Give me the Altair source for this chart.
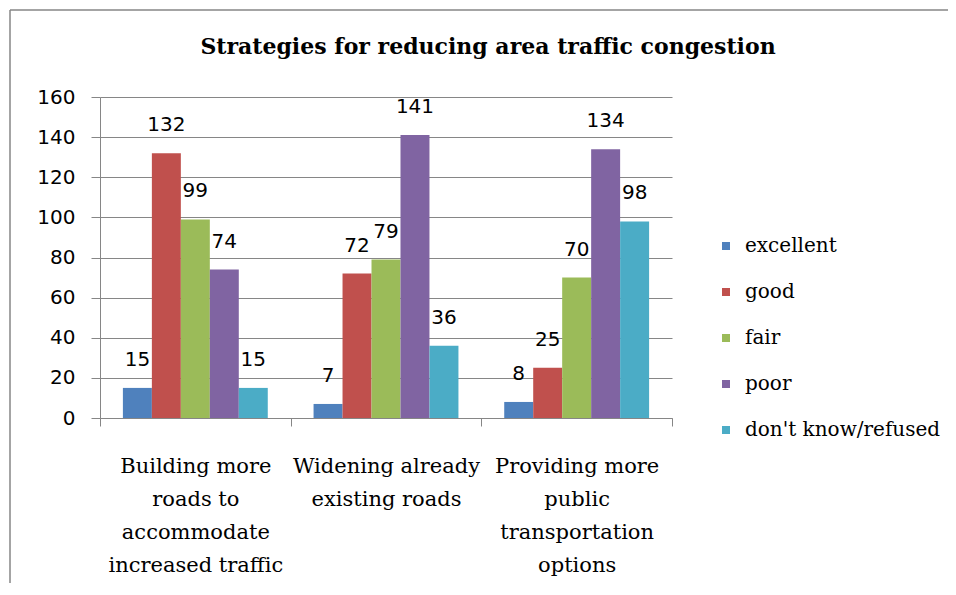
import json
import altair as alt
import pandas as pd

title_text = "Strategies for reducing area traffic congestion"
categories = [
    "Building more roads to accommodate increased traffic",
    "Widening already existing roads",
    "Providing more public transportation options",
]
category_lines = [
    ["Building more", "roads to", "accommodate", "increased traffic"],
    ["Widening already", "existing roads"],
    ["Providing more", "public", "transportation", "options"],
]
ratings = ["excellent", "good", "fair", "poor", "don't know/refused"]
excellent = [15, 7, 8]
good = [132, 72, 25]
fair = [99, 79, 70]
poor = [74, 141, 134]
dont_know = [15, 36, 98]
colors = ["#4F81BD", "#C0504D", "#9BBB59", "#8064A2", "#4BACC6"]
y_ticks = [0, 20, 40, 60, 80, 100, 120, 140, 160]

series = [excellent, good, fair, poor, dont_know]
rows = []
for r, vals in zip(ratings, series):
    for c, v in zip(categories, vals):
        rows.append({"category": c, "rating": r, "value": v})
df = pd.DataFrame(rows)

# multi-line labels
expr = "''"
for c, lines in reversed(list(zip(categories, category_lines))):
    expr = f"datum.value == {json.dumps(c)} ? {json.dumps(lines)} : ({expr})"

GRAY = "#868686"

x_enc = alt.X(
    "category:N",
    sort=categories,
    scale=alt.Scale(paddingInner=0, paddingOuter=0),
    axis=alt.Axis(
        title=None, labelAngle=0, labelExpr=expr, tickBand="extent",
        tickSize=8, tickColor=GRAY, domainColor=GRAY, grid=False,
        labelFont="DejaVu Serif", labelFontSize=21, labelLineHeight=33,
        labelPadding=29, labelLimit=400, labelOverlap=False, labelColor="black",
    ),
)
xo_enc = alt.XOffset("rating:N", sort=ratings,
                     scale=alt.Scale(paddingOuter=0.79, paddingInner=0))
y_enc = alt.Y(
    "value:Q",
    scale=alt.Scale(domain=[0, 160], nice=False),
    axis=alt.Axis(
        title=None, values=y_ticks, grid=True, gridColor=GRAY, domainColor=GRAY,
        tickColor=GRAY, tickSize=9, labelPadding=16, labelFont="DejaVu Sans",
        labelFontSize=20, labelColor="black",
    ),
)

base = alt.Chart(df)
bars = base.mark_bar().encode(
    x=x_enc, xOffset=xo_enc, y=y_enc,
    color=alt.Color(
        "rating:N", sort=ratings,
        scale=alt.Scale(domain=ratings, range=colors),
        legend=alt.Legend(
            title=None, orient="none", legendX=616, legendY=139,
            symbolType="square", symbolSize=64, symbolStrokeWidth=0,
            labelFont="DejaVu Serif", labelFontSize=20, labelColor="black",
            labelOffset=9, rowPadding=26, labelLimit=400,
        ),
    ),
)
labels = base.mark_text(baseline="bottom", dy=-18, font="DejaVu Sans",
                        fontSize=20, color="black").encode(
    x=alt.X("category:N", sort=categories),
    xOffset=alt.XOffset("rating:N", sort=ratings),
    y="value:Q",
    text="value:Q",
)

tdf = pd.DataFrame({"t": [title_text]})
title = alt.Chart(tdf).mark_text(
    font="DejaVu Serif", fontSize=22, fontWeight="bold", color="black",
    baseline="middle", align="center",
).encode(x=alt.value(388), y=alt.value(-50), text="t:N")

frame_left = alt.Chart(tdf).mark_rule(color=GRAY, strokeWidth=1.5).encode(
    x=alt.value(-90), y=alt.value(-87), y2=alt.value(520))
frame_top = alt.Chart(tdf).mark_rule(color=GRAY, strokeWidth=1.5).encode(
    x=alt.value(-90), x2=alt.value(900), y=alt.value(-87))

chart = alt.layer(frame_left, frame_top, bars, labels, title).properties(
    width=572, height=321,
    autosize=alt.AutoSizeParams(type="none"),
    padding={"left": 92, "top": 89, "right": 276, "bottom": 165},
    background="white",
).configure_view(stroke=None)

chart.save("out.html", embed_options={"renderer": "svg", "actions": False})
